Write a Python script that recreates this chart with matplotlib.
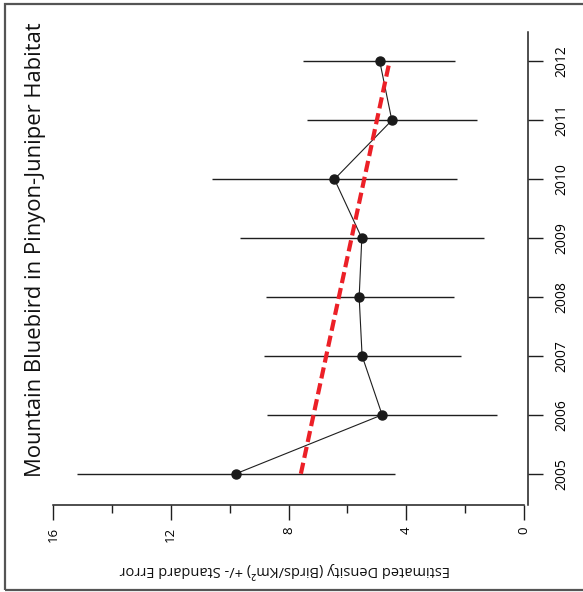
import matplotlib
matplotlib.use('Agg')
import matplotlib.pyplot as plt
from matplotlib.patches import Rectangle
from matplotlib.ticker import MultipleLocator

# survey years and density estimates (birds / km^2)
years = [2005, 2006, 2007, 2008, 2009, 2010, 2011, 2012]
density = [9.79, 4.82, 5.50, 5.60, 5.51, 6.44, 4.49, 4.90]
se_upper = [15.19, 8.72, 8.83, 8.76, 9.65, 10.61, 7.38, 7.51]
se_lower = [4.38, 0.92, 2.14, 2.38, 1.36, 2.27, 1.59, 2.34]

# trend line end points
trend_years = [2005, 2011.95]
trend_density = [7.58, 4.59]

x_major = [0, 4, 8, 12, 16]
x_labels = ['0', '4', '8', '12', '16']

plt.rcParams['font.family'] = ['Open Sans', 'DejaVu Sans']

fig = plt.figure(figsize=(5.83, 5.92), dpi=100)
ax = fig.add_axes([0.0909, 0.1470, 0.8143, 0.7990])

# page frame
fig.patches.append(Rectangle((5 / 583, 2 / 592), 1.2, 586 / 592, transform=fig.transFigure,
                             fill=False, ec='#555555', lw=1.6))

ax.hlines(years, se_lower, se_upper, color='#1e1e1e', lw=1.0)
ax.plot(density, years, color='#1e1e1e', lw=0.8, marker='o', ms=6.5,
        mfc='#1a1a1a', mec='#1a1a1a', zorder=3)
ax.plot(trend_density, trend_years, color='#ec2027', lw=3.0, dashes=(2.7, 1.2),
        solid_capstyle='butt', zorder=4)

ax.set_xlim(16, -0.126)
ax.set_ylim(2004.47, 2012.5)

for s in ['top', 'left']:
    ax.spines[s].set_visible(False)
ax.spines['bottom'].set_bounds(0, 16)
for s in ['bottom', 'right']:
    ax.spines[s].set_linewidth(1.1)
    ax.spines[s].set_color('#1e1e1e')

ax.xaxis.set_major_locator(MultipleLocator(4))
ax.xaxis.set_minor_locator(MultipleLocator(2))
ax.set_xticks(x_major)
ax.set_xticklabels(x_labels, rotation=90, va='top', ha='center')
ax.tick_params(axis='x', which='major', direction='out', length=10.5, width=1.0,
               pad=5, labelsize=9.5, color='#1e1e1e')
ax.tick_params(axis='x', which='minor', direction='out', length=5.5, width=1.0,
               color='#1e1e1e')

ax.yaxis.tick_right()
ax.set_yticks(years)
ax.set_yticklabels([str(y) for y in years], rotation=90, va='center', ha='left')
ax.tick_params(axis='y', direction='out', length=11, width=1.0, pad=8,
               labelsize=10, color='#1e1e1e')

fig.text(36 / 583, 1 - 250 / 592, 'Mountain Bluebird in Pinyon-Juniper Habitat',
         rotation=90, ha='center', va='center', fontsize=15.8, color='#111111')
fig.text(285 / 583, 1 - 571 / 592, 'Estimated Density (Birds/Km²) +/- Standard Error',
         rotation=180, ha='center', va='center', fontsize=10.5, color='#111111')

fig.savefig('out.png', dpi=100)
